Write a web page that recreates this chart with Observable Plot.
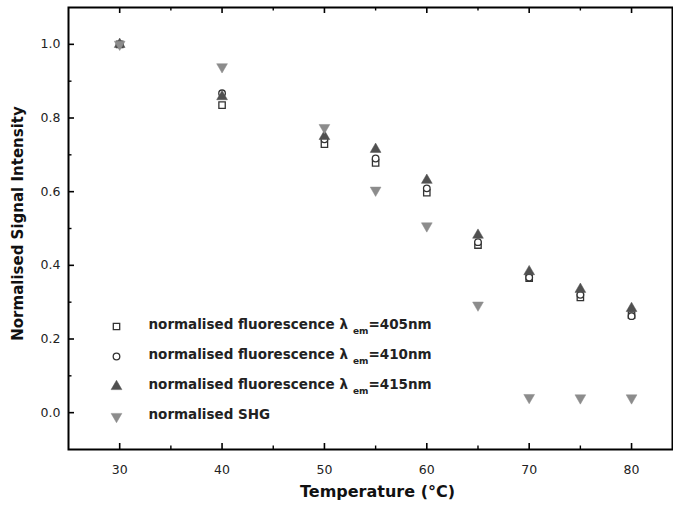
<!DOCTYPE html>
<html><head><meta charset="utf-8">
<script src="https://cdn.jsdelivr.net/npm/d3@7"></script>
<script src="https://cdn.jsdelivr.net/npm/@observablehq/plot@0.6"></script>
<style>body{margin:0;background:#fff} svg{display:block;background:#fff}</style>
</head><body><div id="chart"></div>
<script>
// ---- data ----
const temperature = [30, 40, 50, 55, 60, 65, 70, 75, 80];
const fluo405 = [1.0, 0.835, 0.729, 0.678, 0.597, 0.455, 0.365, 0.313, 0.265];
const fluo410 = [1.0, 0.867, 0.742, 0.690, 0.609, 0.463, 0.367, 0.320, 0.262];
const fluo415 = [1.0, 0.858, 0.750, 0.715, 0.631, 0.482, 0.383, 0.335, 0.283];
const shg     = [1.0, 0.939, 0.774, 0.604, 0.507, 0.292, 0.041, 0.040, 0.040];

const legendMain = ["normalised fluorescence λ", "normalised fluorescence λ", "normalised fluorescence λ", "normalised SHG"];
const legendSub = ["em", "em", "em", ""];
const legendTail = ["=405nm", "=410nm", "=415nm", ""];

const xMajor = [30, 40, 50, 60, 70, 80];
const xMinor = [35, 45, 55, 65, 75];
const yMajor = [0.0, 0.2, 0.4, 0.6, 0.8, 1.0];
const yMinor = [0.1, 0.3, 0.5, 0.7, 0.9];

const xTitle = "Temperature (°C)";
const yTitle = "Normalised Signal Intensity";

// ---- styling ----
const triangleDown = {
  draw(context, size) {
    const y = -Math.sqrt(size / (Math.sqrt(3) * 3));
    context.moveTo(0, -2 * y);
    context.lineTo(-Math.sqrt(3) * y, y);
    context.lineTo(Math.sqrt(3) * y, y);
    context.closePath();
  }
};
const styles = [
  {symbol: "square", r: 3.6, fill: "white", stroke: "#333", strokeWidth: 1.3},
  {symbol: "circle", r: 3.3, fill: "white", stroke: "#333", strokeWidth: 1.3},
  {symbol: "triangle", r: 4.0, fill: "#505050", stroke: "#505050", strokeWidth: 0.5},
  {symbol: triangleDown, r: 4.0, fill: "#8c8c8c", stroke: "#8c8c8c", strokeWidth: 0.5}
];
const seriesValues = [fluo405, fluo410, fluo415, shg];

const W = 673, H = 516;
const mL = 68, mR = 1, mT = 7, mB = 67;
const plotW = W - mL - mR, plotH = H - mT - mB;
const tickMaj = 6, tickMin = 3.5;
const legendRowDy = [-123, -93, -63, -33];

const marks = [];
seriesValues.forEach((vals, i) => {
  marks.push(Plot.dot(temperature.map((t, j) => ({t, v: vals[j]})), {x: "t", y: "v", ...styles[i]}));
});
marks.push(
  Plot.ruleX(xMajor, {x: d => d, insetTop: plotH - tickMaj, stroke: "#000", strokeWidth: 1.6}),
  Plot.ruleX(xMajor, {x: d => d, insetBottom: plotH - tickMaj, stroke: "#000", strokeWidth: 1.6}),
  Plot.ruleX(xMinor, {x: d => d, insetTop: plotH - tickMin, stroke: "#000", strokeWidth: 1.4}),
  Plot.ruleX(xMinor, {x: d => d, insetBottom: plotH - tickMin, stroke: "#000", strokeWidth: 1.4}),
  Plot.ruleY(yMajor, {y: d => d, insetRight: plotW - tickMaj, stroke: "#000", strokeWidth: 1.6}),
  Plot.ruleY(yMinor, {y: d => d, insetRight: plotW - tickMin, stroke: "#000", strokeWidth: 1.4}),
  Plot.frame({stroke: "#000", strokeWidth: 2})
);
marks.push(
  Plot.axisX(xMajor, {tickSize: 0, tickPadding: 16, fontSize: 12.5, fill: "#222", label: null}),
  Plot.axisY(yMajor, {tickSize: 0, tickPadding: 8, fontSize: 12.5, fill: "#222", tickFormat: d3.format(".1f"), label: null}),
  Plot.text([xTitle], {frameAnchor: "bottom", dx: 7, dy: 47, fontSize: 16, fontWeight: "bold", fill: "#111", textAnchor: "middle"}),
  Plot.text([yTitle], {frameAnchor: "left", dx: -50, dy: -5, rotate: -90, fontSize: 15, fontWeight: "bold", fill: "#111", textAnchor: "middle"})
);
legendMain.forEach((lab, i) => {
  marks.push(Plot.dot([lab], {frameAnchor: "bottom-left", dx: 48, dy: legendRowDy[i], ...styles[i]}));
  marks.push(Plot.text([i], {text: d => legendMain[d], frameAnchor: "bottom-left", dx: 80, dy: legendRowDy[i] + 2, textAnchor: "start", fontSize: 13.5, fontWeight: "bold", fill: "#222"}));
});

const chart = Plot.plot({
  width: W, height: H,
  marginLeft: mL, marginRight: mR, marginTop: mT, marginBottom: mB,
  style: {fontFamily: "DejaVu Sans", background: "#fff"},
  x: {domain: [25, 84]},
  y: {domain: [-0.1, 1.1]},
  marks
});

// add subscripts to legend text
let k = 0;
chart.querySelectorAll("text").forEach(t => {
  if (t.textContent.startsWith("normalised")) {
    const i = k++;
    if (!legendSub[i]) return;
    const sub = document.createElementNS("http://www.w3.org/2000/svg", "tspan");
    sub.setAttribute("dx", "5");
    sub.setAttribute("dy", "5");
    sub.setAttribute("font-size", "9");
    sub.textContent = legendSub[i];
    const tail = document.createElementNS("http://www.w3.org/2000/svg", "tspan");
    tail.setAttribute("dy", "-5");
    tail.setAttribute("font-size", "13.5");
    tail.textContent = legendTail[i];
    t.appendChild(sub);
    t.appendChild(tail);
  }
});

document.getElementById("chart").appendChild(chart);
</script>
</body></html>
